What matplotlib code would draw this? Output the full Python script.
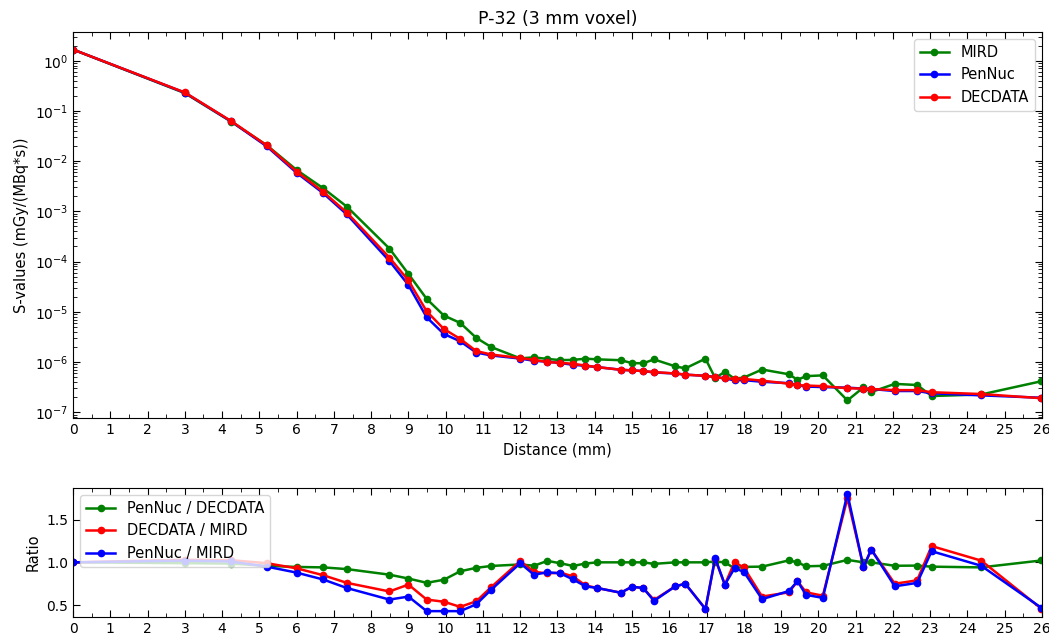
import matplotlib
matplotlib.use("Agg")
import matplotlib.pyplot as plt
from matplotlib.ticker import MultipleLocator
import numpy as np

# distance of voxel centres (mm)
distance = [0, 3, 4.24, 5.2, 6, 6.71, 7.35, 8.49, 9, 9.49, 9.95, 10.39, 10.82,
            11.22, 12, 12.37, 12.73, 13.08, 13.42, 13.75, 14.07, 14.7, 15, 15.3,
            15.59, 16.16, 16.43, 16.97, 17.23, 17.49, 17.75, 18, 18.49, 19.21,
            19.44, 19.67, 20.12, 20.78, 21.21, 21.42, 22.05, 22.65, 23.04,
            24.37, 25.98]

# S-values from DECDATA, mGy/(MBq*s)
decdata = [1.67, 0.233, 0.063, 0.0205, 0.0062, 0.00246, 0.00094, 1.2e-4,
           4.2e-5, 1.02e-5, 4.55e-6, 2.88e-6, 1.65e-6, 1.41e-6, 1.2e-6,
           1.10e-6, 1.0e-6, 9.6e-7, 9.2e-7, 8.5e-7, 7.9e-7, 7.0e-7, 6.8e-7,
           6.6e-7, 6.3e-7, 5.9e-7, 5.6e-7, 5.3e-7, 5.0e-7, 4.7e-7, 4.65e-7,
           4.6e-7, 4.25e-7, 3.7e-7, 3.45e-7, 3.4e-7, 3.3e-7, 3.0e-7, 2.95e-7,
           2.9e-7, 2.75e-7, 2.75e-7, 2.5e-7, 2.3e-7, 1.9e-7]

# ratios relative to MIRD
dec_over_mird = [1.0, 1.03, 1.025, 0.99, 0.93, 0.85, 0.76, 0.66, 0.74, 0.565,
                 0.54, 0.48, 0.545, 0.71, 1.015, 0.89, 0.87, 0.88, 0.835, 0.73,
                 0.70, 0.645, 0.715, 0.70, 0.56, 0.72, 0.75, 0.455, 1.04, 0.74,
                 1.0, 0.94, 0.60, 0.65, 0.78, 0.65, 0.61, 1.75, 0.945, 1.15,
                 0.75, 0.79, 1.19, 1.02, 0.46]
pen_over_mird = [1.0, 1.02, 1.01, 0.95, 0.88, 0.80, 0.70, 0.565, 0.60, 0.43,
                 0.43, 0.43, 0.51, 0.68, 0.99, 0.855, 0.885, 0.87, 0.80, 0.72,
                 0.70, 0.645, 0.715, 0.70, 0.55, 0.72, 0.75, 0.455, 1.05, 0.74,
                 0.93, 0.89, 0.57, 0.665, 0.78, 0.62, 0.585, 1.80, 0.945, 1.15,
                 0.72, 0.76, 1.13, 0.96, 0.47]

x = np.array(distance)
dec = np.array(decdata)
mird = dec / np.array(dec_over_mird)
pennuc = mird * np.array(pen_over_mird)

plt.rcParams["font.size"] = 10.5

fig = plt.figure(figsize=(10.49, 6.37), dpi=100)
ax = fig.add_axes([0.0696, 0.3438, 0.9237, 0.606])
ax2 = fig.add_axes([0.0696, 0.0314, 0.9237, 0.2025])

lw, ms = 1.8, 4.5
ax.plot(x, mird, "-o", color="green", lw=lw, ms=ms, label="MIRD")
ax.plot(x, pennuc, "-o", color="blue", lw=lw, ms=ms, label="PenNuc")
ax.plot(x, dec, "-o", color="red", lw=lw, ms=ms, label="DECDATA")
ax.set_yscale("log")
ax.set_xlim(0, 26)
ax.set_xlabel("Distance (mm)")
ax.set_ylabel("S-values (mGy/(MBq*s))")
ax.set_title("P-32 (3 mm voxel)", fontsize=12.5)
ax.legend(loc="upper right")

ax2.plot(x, pennuc / dec, "-o", color="green", lw=lw, ms=ms, label="PenNuc / DECDATA")
ax2.plot(x, dec / mird, "-o", color="red", lw=lw, ms=ms, label="DECDATA / MIRD")
ax2.plot(x, pennuc / mird, "-o", color="blue", lw=lw, ms=ms, label="PenNuc / MIRD")
ax2.set_xlim(0, 26)
ax2.set_ylabel("Ratio")
ax2.yaxis.set_major_locator(MultipleLocator(0.5))
ax2.legend(loc="upper left")

for a in (ax, ax2):
    a.xaxis.set_major_locator(MultipleLocator(1))
    a.xaxis.set_minor_locator(MultipleLocator(0.5))
    a.tick_params(which="both", direction="in", top=True, right=True, labelsize=10)
    a.tick_params(which="major", length=5)
    a.tick_params(which="minor", length=3)

fig.savefig("out.png", dpi=100)
